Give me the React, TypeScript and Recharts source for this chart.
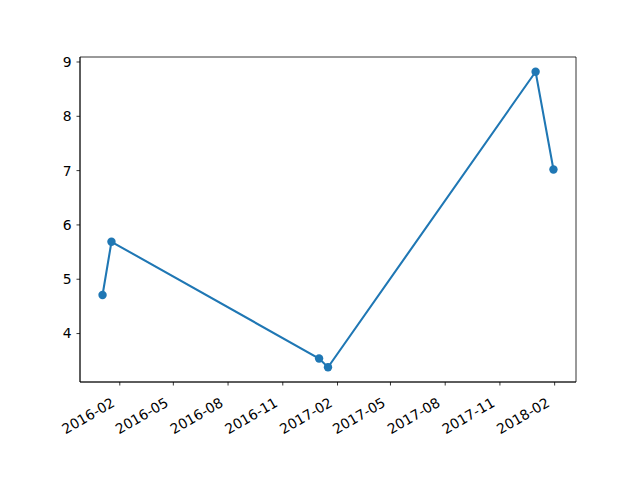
import React from 'react';
import { LineChart, Line, XAxis, YAxis, ReferenceArea } from 'recharts';

const dates = ['2016-01-03', '2016-01-18', '2017-01-01', '2017-01-16', '2017-12-31', '2018-01-30'];
const values = [4.71, 5.69, 3.54, 3.38, 8.82, 7.02];
const xTickLabels = ['2016-02', '2016-05', '2016-08', '2016-11', '2017-02', '2017-05', '2017-08', '2017-11', '2018-02'];
const yTicks = [4, 5, 6, 7, 8, 9];

const toTime = (s: string) => Date.parse(s + 'T00:00:00Z');

const data = dates.map((d, i) => ({ t: toTime(d), v: values[i] }));
const xTicks = xTickLabels.map((m) => toTime(m + '-01'));

const pad = (lo: number, hi: number): [number, number] => {
  const m = (hi - lo) * 0.05;
  return [lo - m, hi + m];
};
const xDomain = pad(Math.min(...data.map((d) => d.t)), Math.max(...data.map((d) => d.t)));
const yDomain = pad(Math.min(...values), Math.max(...values));

const fmtMonth = (t: number) => {
  const d = new Date(t);
  return `${d.getUTCFullYear()}-${String(d.getUTCMonth() + 1).padStart(2, '0')}`;
};

const FONT = 'DejaVu Sans';
const BLUE = '#1f77b4';

const XTick = ({ x, y, payload }: any) => {
  const px = x - 4;
  const py = y + 18;
  return (
    <text
      x={px}
      y={py}
      textAnchor="end"
      fontSize={13.9}
      fontFamily={FONT}
      fill="#000"
      transform={`rotate(-30 ${px} ${py})`}
    >
      {fmtMonth(payload.value)}
    </text>
  );
};

const Dot = ({ cx, cy }: any) => <circle cx={cx} cy={cy} r={4.2} fill={BLUE} stroke="none" />;

export default function App() {
  return (
    <div style={{ position: 'absolute', left: 0, top: 0, width: 640, height: 478, background: '#fff' }}>
      <LineChart width={640} height={478} data={data} margin={{ top: 57, right: 64, bottom: 36, left: 0 }}>
        <XAxis
          dataKey="t"
          type="number"
          scale="time"
          domain={xDomain}
          ticks={xTicks}
          interval={0}
          tick={<XTick />}
          tickSize={3.5}
          height={60}
          axisLine={{ stroke: '#000', strokeWidth: 0.8 }}
          tickLine={{ stroke: '#000', strokeWidth: 0.8 }}
          allowDataOverflow
        />
        <YAxis
          type="number"
          domain={yDomain}
          ticks={yTicks}
          interval={0}
          width={80}
          tickSize={3.5}
          tickMargin={5}
          axisLine={{ stroke: '#000', strokeWidth: 0.8 }}
          tickLine={{ stroke: '#000', strokeWidth: 0.8 }}
          tick={{ fontSize: 13.9, fontFamily: FONT, fill: '#000' }}
          allowDataOverflow
        />
        <ReferenceArea
          x1={xDomain[0]}
          x2={xDomain[1]}
          y1={yDomain[0]}
          y2={yDomain[1]}
          fill="none"
          stroke="#000"
          strokeWidth={0.8}
          ifOverflow="visible"
        />
        <Line
          dataKey="v"
          type="linear"
          stroke={BLUE}
          strokeWidth={2.08}
          dot={<Dot />}
          activeDot={false}
          isAnimationActive={false}
        />
      </LineChart>
    </div>
  );
}
